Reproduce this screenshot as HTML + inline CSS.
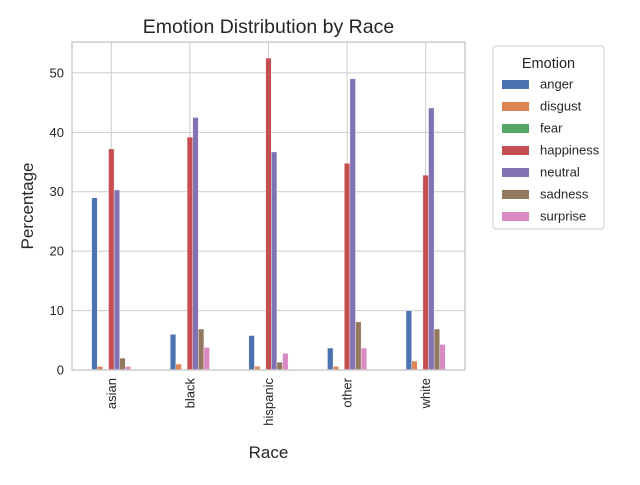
<!DOCTYPE html>
<html><head><meta charset="utf-8"><style>
body{margin:0;background:#fff;font-family:"Liberation Sans","DejaVu Sans",sans-serif}
</style></head><body>
<svg width="640" height="480" id="c" xmlns="http://www.w3.org/2000/svg" font-family="Liberation Sans, DejaVu Sans, sans-serif"></svg>
<script>
const races=["asian","black","hispanic","other","white"];
const emotions=["anger","disgust","fear","happiness","neutral","sadness","surprise"];
const colors=["#4c72b0","#dd8452","#55a868","#c44e52","#8172b3","#937860","#da8bc3"];
const anger=[29.0,6.0,5.8,3.7,10.0];
const disgust=[0.6,1.0,0.6,0.6,1.5];
const fear=[0,0,0,0,0];
const happiness=[37.2,39.2,52.5,34.8,32.8];
const neutral=[30.3,42.5,36.7,49.0,44.1];
const sadness=[2.0,6.9,1.3,8.1,6.9];
const surprise=[0.6,3.8,2.8,3.7,4.3];
const series=[anger,disgust,fear,happiness,neutral,sadness,surprise];
const yTicks=[0,10,20,30,40,50];
const NS="http://www.w3.org/2000/svg";
const svg=document.getElementById('c');
function mk(t,a,p){const e=document.createElementNS(NS,t);for(const k in a)e.setAttribute(k,a[k]);(p||svg).appendChild(e);return e;}
const L=72,R=465,T=42,B=370,ymax=55.2;
const y=v=>B-(v/ymax)*(B-T);
const step=(R-L)/races.length;
const x=i=>L+step*(i+0.5);
// gridlines
yTicks.forEach(t=>{const g=mk('line',{x1:L,x2:R,y1:y(t),y2:y(t),stroke:'#cccccc','stroke-width':1});

const tx=mk('text',{x:L-8,y:y(t)+4.5,'text-anchor':'end','font-size':13,fill:'#262626'});tx.textContent=t;
});
races.forEach((r,i)=>{const g=mk('line',{x1:x(i),x2:x(i),y1:T,y2:B,stroke:'#cccccc','stroke-width':1});

const tx=mk('text',{x:0,y:0,'text-anchor':'end','font-size':13,fill:'#262626',transform:`translate(${x(i)+4.5},${B+8}) rotate(-90)`});tx.textContent=r;
});
const bw=step*0.5/emotions.length;
series.forEach((s,j)=>{s.forEach((v,i)=>{const bx=x(i)-step*0.25+j*bw;
const b=mk('rect',{x:bx,y:y(v),width:bw,height:B-y(v),fill:colors[j],stroke:'#fff','stroke-width':0.4});
});});
const fr=mk('rect',{x:L,y:T,width:R-L,height:B-T,fill:'none',stroke:'#cccccc','stroke-width':1.5});

let t=mk('text',{x:(L+R)/2,y:33,'text-anchor':'middle','font-size':19.5,fill:'#262626'});t.textContent='Emotion Distribution by Race';

t=mk('text',{x:(L+R)/2,y:458,'text-anchor':'middle','font-size':17,fill:'#262626'});t.textContent='Race';

t=mk('text',{x:0,y:0,'text-anchor':'middle','font-size':17,fill:'#262626',transform:`translate(33,${(T+B)/2}) rotate(-90)`});t.textContent='Percentage';

const lg=mk('g',{});
mk('rect',{x:493,y:46,width:111,height:183,rx:3,fill:'#fff',stroke:'#cccccc'},lg);
t=mk('text',{x:548.5,y:68,'text-anchor':'middle','font-size':14.5,fill:'#262626'},lg);t.textContent='Emotion';
emotions.forEach((e,j)=>{const ey=84+j*22;
const sw=mk('rect',{x:502,y:ey-4,width:27,height:9,fill:colors[j]},lg);

const tx=mk('text',{x:540,y:ey+4.5,'font-size':13,fill:'#262626'},lg);tx.textContent=e;
});
</script>
</body></html>
